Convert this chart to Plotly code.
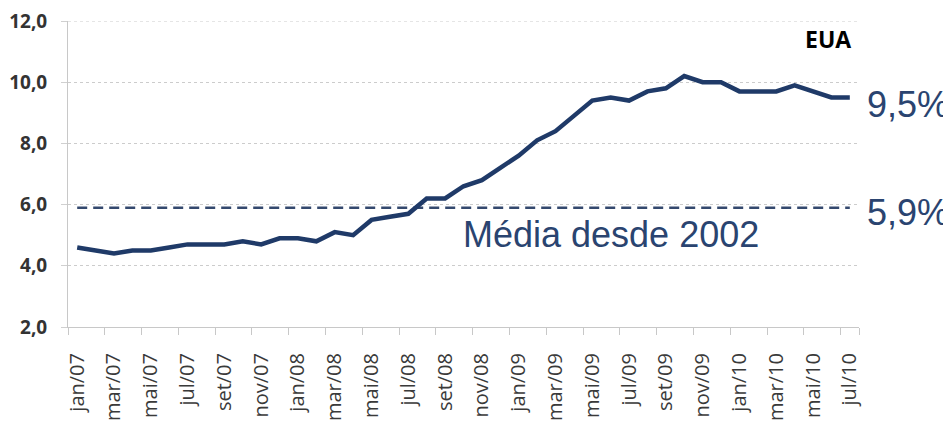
import plotly.graph_objects as go

# ---- data ----
month_names = ["jan", "fev", "mar", "abr", "mai", "jun", "jul", "ago", "set", "out", "nov", "dez"]
years = ["07", "08", "09", "10"]
months = [f"{m}/{y}" for y in years for m in month_names][:43]  # jan/07 .. jul/10

unemployment = [4.6, 4.5, 4.4, 4.5, 4.5, 4.6, 4.7, 4.7, 4.7, 4.8, 4.7, 4.9,
                4.9, 4.8, 5.1, 5.0, 5.5, 5.6, 5.7, 6.2, 6.2, 6.6, 6.8, 7.2,
                7.6, 8.1, 8.4, 8.9, 9.4, 9.5, 9.4, 9.7, 9.8, 10.2, 10.0, 10.0,
                9.7, 9.7, 9.7, 9.9, 9.7, 9.5, 9.5]
mean_since_2002 = 5.9
mean_series = [mean_since_2002] * len(months)

tick_labels = months[::2]
y_ticks = [2, 4, 6, 8, 10, 12]
y_tick_text = ["2,0", "4,0", "6,0", "8,0", "10,0", "12,0"]

last_label = "9,5%"
mean_label = "5,9%"
mean_text = "Média desde 2002"
title_text = "EUA"

# ---- styles ----
LINE_COLOR = "#1f3a68"
DASH_COLOR = "#34496e"
TEXT_COLOR = "#2a4470"
GRID_COLOR = "#cccccc"

fig = go.Figure()
fig.add_trace(go.Scatter(
    x=months, y=mean_series, mode="lines",
    line=dict(color=DASH_COLOR, width=2.5, dash="10px,6px"),
    hoverinfo="skip", showlegend=False,
))
fig.add_trace(go.Scatter(
    x=months, y=unemployment, mode="lines",
    line=dict(color=LINE_COLOR, width=4.5),
    showlegend=False,
))

fig.update_layout(
    width=943, height=417,
    margin=dict(l=60, r=92, t=13, b=98, autoexpand=False),
    paper_bgcolor="white", plot_bgcolor="white",
    showlegend=False,
)

fig.update_xaxes(
    type="category",
    categoryorder="array", categoryarray=months,
    range=[-0.5, 42.5],
    tickmode="array", tickvals=tick_labels, ticktext=tick_labels,
    tickson="boundaries",
    ticks="outside", ticklen=7, tickcolor="#c8c8c8", tickwidth=1,
    tickangle=-90,
    ticklabelstandoff=17,
    ticklabeloverflow="allow",
    tickfont=dict(family="Open Sans", size=20, color="#3a3a3a"),
    showline=True, linecolor="#c8c8c8", linewidth=1,
    showgrid=False, zeroline=False,
    automargin=False,
)

fig.update_yaxes(
    range=[y_ticks[0], y_ticks[-1]],
    tickmode="array", tickvals=y_ticks, ticktext=y_tick_text,
    ticks="outside", ticklen=6, tickcolor="#d0d0d0",
    ticklabelstandoff=10,
    ticklabeloverflow="allow",
    tickfont=dict(family="Open Sans", size=19, color="#333333", weight="bold"),
    showline=True, linecolor="#c8c8c8", linewidth=1,
    showgrid=True, gridcolor=GRID_COLOR, griddash="dot", gridwidth=1,
    zeroline=False,
    automargin=False,
)

# top gridline (at the range edge plotly omits it)
fig.add_shape(
    type="line", xref="paper", yref="y",
    x0=0, x1=1, y0=y_ticks[-1], y1=y_ticks[-1],
    line=dict(color=GRID_COLOR, width=1, dash="dot"),
    layer="below",
)

fig.add_annotation(
    xref="paper", yref="paper", x=0.993, y=0.94,
    xanchor="right", yanchor="middle",
    text=f"<b>{title_text}</b>", showarrow=False,
    font=dict(family="Open Sans", size=23, color="#000000"),
)
fig.add_annotation(
    xref="paper", yref="y", x=1.007, y=unemployment[-1],
    xanchor="left", yanchor="middle", yshift=-7,
    text=last_label, showarrow=False,
    font=dict(family="Liberation Sans", size=36, color=TEXT_COLOR),
)
fig.add_annotation(
    xref="paper", yref="y", x=1.007, y=mean_since_2002,
    xanchor="left", yanchor="middle", yshift=-5,
    text=mean_label, showarrow=False,
    font=dict(family="Liberation Sans", size=36, color=TEXT_COLOR),
)
fig.add_annotation(
    xref="paper", yref="y", x=(453 - 60) / 791, y=mean_since_2002,
    xanchor="left", yanchor="middle", yshift=-27,
    text=mean_text, showarrow=False,
    font=dict(family="Liberation Sans", size=36, color=TEXT_COLOR),
)

fig.write_html("out.html")
